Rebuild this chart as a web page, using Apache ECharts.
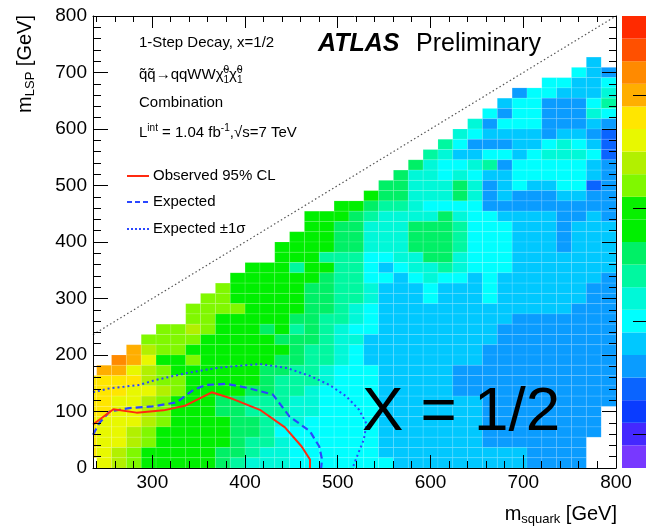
<!DOCTYPE html>
<html lang="en">
<head>
<meta charset="UTF-8">
<title>1-Step Decay x=1/2</title>
<style>
    html, body { margin: 0; padding: 0; background: #fff; }
    #chart { width: 646px; height: 527px; }
</style>
</head>
<body>
<div id="chart"></div>
<script src="https://cdn.jsdelivr.net/npm/echarts@6/dist/echarts.min.js"></script>
<script>
// histogram bins (GeV)
var squarkEdges = [224, 240, 256, 272, 288, 304, 320, 336, 352, 368, 384, 400, 416, 432, 448, 464, 480, 496,
    512, 528, 544, 560, 576, 592, 608, 624, 640, 656, 672, 688, 704, 720, 736, 752, 768, 784, 800];
var lspEdges = [0, 18.18, 36.36, 54.55, 72.73, 90.91, 109.09, 127.27, 145.45, 163.64, 181.82, 200,
    218.18, 236.36, 254.55, 272.73, 290.91, 309.09, 327.27, 345.45, 363.64, 381.82, 400, 418.18, 436.36,
    454.55, 472.73, 490.91, 509.09, 527.27, 545.45, 563.64, 581.82, 600, 618.18, 636.36, 654.55, 672.73,
    690.91, 709.09, 727.27];

// colour level per cell, one row per m_LSP bin, top row first: [first column, codes]
// codes: '.' empty, 0-9 then a-j = level 0..19 of the palette
var cellRows = [
    [34, '5'],
    [33, '654'],
    [31, '66556'],
    [29, '4665557'],
    [28, '56644468'],
    [27, '646644476'],
    [26, '7466644454'],
    [25, '76555545543'],
    [24, '864445567653'],
    [23, '8755665677763'],
    [22, '97667846666654'],
    [21, '977676556666654'],
    [20, '9977797456556634'],
    [19, 'a9977797454445544'],
    [17, 'aa98876666444444444'],
    [15, 'aaa987777976655554454'],
    [15, 'aa9977799986665554555'],
    [14, 'aaa9977799986665554555'],
    [13, 'aaaa9977799986665554555'],
    [13, 'aaa88866779976665555555'],
    [11, 'aaa8aa8865677876665555555'],
    [10, 'aaaaaa98866567665655555554'],
    [9, 'caaaaa998875556555655555544'],
    [8, 'ccaaaaa998875556555655555544'],
    [7, 'ccccaaaa998765555555555555444'],
    [7, 'ccaaaaa9988765555555554444444'],
    [5, 'ccdcaaa9a8987665555555544444444'],
    [4, 'ccccaaaaa99987755555555544444444'],
    [3, 'gdccaaaaaaa9887655555555444444444'],
    [2, 'hgeaacaaaaa99887655555555444444444'],
    [1, 'ggedcaaaaaa998876665555544444444444'],
    [0, 'ffffdccaaaaa988876665555544444444444'],
    [0, 'fffeedcaaaa9988766665555544444444444'],
    [0, 'ffeedcaaa998887766665555555444444444'],
    [0, 'ffeedcaaa99888776666555555544444444.'],
    [0, 'feeedcaaaa9987766666555555544444444.'],
    [0, 'feedcaaaaa9986666666555555544444444.'],
    [0, 'feedcaaaaa988766666655555554444444..'],
    [0, 'fedcaaaaa9987766666655555555554444..'],
    [0, '.edcaaaaa9877766666665555555554444..']
];

// limit contours [m_squark, m_LSP]
var observed = [[236, 77], [258, 104], [283, 98], [312, 102], [335, 110], [364, 134], [387, 122],
    [416, 103], [443, 72], [461, 38], [470, 15], [470, 0]];
var expected = [[236, 59], [243, 80], [254, 100], [275, 106], [300, 109], [326, 116], [344, 138],
    [358, 147], [380, 149], [402, 142], [430, 130], [448, 91], [470, 65], [480, 38], [483, 15], [482, 0]];
var expectedUp = [[236, 134], [254, 141], [286, 147], [304, 156], [337, 168], [369, 177], [394, 181],
    [416, 184], [445, 177], [470, 163], [491, 147], [509, 127], [523, 103], [531, 78], [528, 50],
    [523, 30], [518, 9], [516, 0]];
var diagonal = [[236, 236], [800, 800]];

var xMajorTicks = [300, 400, 500, 600, 700, 800];
var xMinorTicks = [240, 260, 280, 300, 320, 340, 360, 380, 400, 420, 440, 460, 480, 500, 520, 540, 560,
    580, 600, 620, 640, 660, 680, 700, 720, 740, 760, 780, 800];
var colorbarTicks = [1.5, 6.5, 11.5, 16.5];

var palette = ['#7838ff', '#4428ff', '#0a3cff', '#0a64ff', '#0a9cff', '#00c8ff', '#00ffff', '#00f8d8',
    '#00f8a0', '#00f066', '#00f000', '#08f000', '#80f800', '#b2f000', '#e8f800', '#ffe600',
    '#ffae00', '#ff8a00', '#ff5000', '#ff2a00'];
var codes = '0123456789abcdefghij';
var FONT = '"Liberation Sans", Arial, Helvetica, sans-serif';

var cells = [];
cellRows.forEach(function (row, i) {
    var r = cellRows.length - 1 - i;
    for (var k = 0; k < row[1].length; k++) {
        var c = row[0] + k;
        var lv = codes.indexOf(row[1].charAt(k));
        if (lv < 0 || c + 1 >= squarkEdges.length) continue;
        cells.push([squarkEdges[c], squarkEdges[c + 1], lspEdges[r], lspEdges[r + 1], lv]);
    }
});
var bands = palette.map(function (p, i) { return [0, i]; });

function renderCell(params, api) {
    var p0 = api.coord([api.value(0), api.value(3)]);
    var p1 = api.coord([api.value(1), api.value(2)]);
    var shape = echarts.graphic.clipRectByRect(
        { x: p0[0], y: p0[1], width: p1[0] - p0[0], height: p1[1] - p0[1] },
        { x: params.coordSys.x, y: params.coordSys.y, width: params.coordSys.width, height: params.coordSys.height });
    if (!shape) return;
    return {
        type: 'rect', shape: shape,
        style: { fill: palette[api.value(4)], stroke: 'rgba(255,255,255,0.18)', lineWidth: 0.6 }
    };
}

function renderBand(params, api) {
    var top = api.coord([0, api.value(1) + 1]);
    var bottom = api.coord([0, api.value(1)]);
    var cs = params.coordSys;
    return {
        type: 'rect',
        shape: { x: cs.x, y: top[1], width: cs.width, height: bottom[1] - top[1] },
        style: { fill: palette[api.value(1)] }
    };
}

function crisp(v) { return Math.round(v - 0.5) + 0.5; }

// inside tick marks of the bottom and top frame edges
function renderXTick(params, api) {
    var v = api.value(0);
    var major = xMajorTicks.indexOf(v) >= 0;
    var x = crisp(api.coord([v, 0])[0]);
    var cs = params.coordSys;
    var yb = cs.y + cs.height, yt = cs.y;
    return {
        type: 'group', children: [
            { type: 'line', shape: { x1: x, y1: yb, x2: x, y2: yb - (major ? 13 : 7) }, style: { stroke: '#000', lineWidth: 1 } },
            { type: 'line', shape: { x1: x, y1: yt, x2: x, y2: yt + (major ? 12 : 6) }, style: { stroke: '#000', lineWidth: 1 } }
        ]
    };
}

function renderBarTick(params, api) {
    var y = crisp(api.coord([0, api.value(1)])[1]);
    var cs = params.coordSys;
    var xr = cs.x + cs.width;
    return { type: 'line', shape: { x1: xr, y1: y, x2: xr - 13, y2: y }, style: { stroke: '#000', lineWidth: 1 } };
}

var black = { color: '#000', width: 1 };
function txt(x, y, text, size, extra) {
    var st = { text: text, x: 0, y: 0, fill: '#000', font: size + 'px ' + FONT,
        align: 'left', verticalAlign: 'middle' };
    for (var k in extra) st[k] = extra[k];
    return { type: 'text', x: x, y: y, z: 100, style: st };
}

var chart = echarts.init(document.getElementById('chart'));
var option = {
    animation: false,
    backgroundColor: '#fff',
    grid: [
        { left: 93, top: 16, width: 523, height: 452 },
        { left: 622, top: 16, width: 28, height: 452 }
    ],
    xAxis: [
        { gridIndex: 0, type: 'value', position: 'bottom', min: 236, max: 800, z: 10,
            axisLine: { show: true, onZero: false, lineStyle: black },
            axisTick: { show: false },
            axisLabel: { show: true, customValues: xMajorTicks, margin: 5, color: '#000', fontSize: 19, fontFamily: FONT },
            splitLine: { show: false } },
        { gridIndex: 0, type: 'value', position: 'top', min: 236, max: 800, z: 10,
            axisLine: { show: true, onZero: false, lineStyle: black },
            axisTick: { show: false }, axisLabel: { show: false }, splitLine: { show: false } },
        { gridIndex: 1, type: 'value', min: 0, max: 1, show: false }
    ],
    yAxis: [
        { gridIndex: 0, type: 'value', position: 'left', min: 0, max: 800, interval: 100, z: 10,
            axisLine: { show: true, onZero: false, lineStyle: black },
            axisTick: { show: true, inside: true, length: 15, lineStyle: black },
            minorTick: { show: true, splitNumber: 5, length: 8, lineStyle: black },
            axisLabel: { margin: 6, color: '#000', fontSize: 19, fontFamily: FONT },
            splitLine: { show: false }, minorSplitLine: { show: false } },
        { gridIndex: 0, type: 'value', position: 'right', min: 0, max: 800, interval: 100, z: 10,
            axisLine: { show: true, onZero: false, lineStyle: black },
            axisTick: { show: true, inside: true, length: 14, lineStyle: black },
            minorTick: { show: true, splitNumber: 5, length: 7, lineStyle: black },
            axisLabel: { show: false }, splitLine: { show: false }, minorSplitLine: { show: false } },
        { gridIndex: 1, type: 'value', min: 0, max: 20, show: false }
    ],
    series: [
        { type: 'custom', name: 'cells', xAxisIndex: 0, yAxisIndex: 0, z: 1, silent: true,
            renderItem: renderCell, encode: { x: [0, 1], y: [2, 3] }, data: cells },
        { type: 'line', name: 'diagonal', xAxisIndex: 0, yAxisIndex: 0, z: 4, symbol: 'none', silent: true,
            lineStyle: { color: '#555', width: 1.2, type: [1.5, 2.5] }, data: diagonal },
        { type: 'line', name: 'Expected ±1σ', xAxisIndex: 0, yAxisIndex: 0, z: 5, symbol: 'none',
            lineStyle: { color: '#2a46ff', width: 2, type: [2, 3] }, data: expectedUp },
        { type: 'line', name: 'Expected', xAxisIndex: 0, yAxisIndex: 0, z: 5, symbol: 'none',
            lineStyle: { color: '#2a46ff', width: 2.2, type: [7, 4] }, data: expected },
        { type: 'line', name: 'Observed 95% CL', xAxisIndex: 0, yAxisIndex: 0, z: 6, symbol: 'none',
            lineStyle: { color: '#ff2a10', width: 2 }, data: observed },
        { type: 'custom', name: 'x ticks', xAxisIndex: 0, yAxisIndex: 0, z: 10, silent: true,
            renderItem: renderXTick, data: xMinorTicks.map(function (v) { return [v, 0]; }) },
        { type: 'custom', name: 'colorbar', xAxisIndex: 2, yAxisIndex: 2, silent: true,
            renderItem: renderBand, data: bands },
        { type: 'custom', name: 'colorbar ticks', xAxisIndex: 2, yAxisIndex: 2, z: 10, silent: true,
            renderItem: renderBarTick, data: colorbarTicks.map(function (v) { return [0, v]; }) }
    ],
    graphic: [
        txt(139, 43, '1-Step Decay, x=1/2', 15),
        txt(139, 75, '{n|q̃q̃→qqWWχ̃}{s|0}{n|χ̃}{s|0}', 15, {
            rich: { n: { fontSize: 15, fontFamily: FONT, lineHeight: 20 },
                s: { fontSize: 10, fontFamily: FONT, lineHeight: 10, verticalAlign: 'top' } } }),
        txt(139, 75, '{n|q̃q̃→qqWWχ̃}{s|1}{n|χ̃}{s|1}', 15, {
            rich: { n: { fontSize: 15, fontFamily: FONT, lineHeight: 20, fill: 'rgba(0,0,0,0)' },
                s: { fontSize: 10, fontFamily: FONT, lineHeight: 10, verticalAlign: 'bottom' } } }),
        txt(139, 103, 'Combination', 15),
        txt(139, 133, '{n|L}{s|int}{n| = 1.04 fb}{s|-1}{n|,√s=7 TeV}', 15, {
            rich: { n: { fontSize: 15, fontFamily: FONT, lineHeight: 20 },
                s: { fontSize: 10, fontFamily: FONT, lineHeight: 10, verticalAlign: 'top' } } }),
        { type: 'line', z: 100, shape: { x1: 127, y1: 176, x2: 149, y2: 176 },
            style: { stroke: '#ff2a10', lineWidth: 2 } },
        txt(153, 176, 'Observed 95% CL', 15),
        { type: 'line', z: 100, shape: { x1: 127, y1: 202, x2: 149, y2: 202 },
            style: { stroke: '#2a46ff', lineWidth: 2.2, lineDash: [5, 3] } },
        txt(153, 202, 'Expected', 15),
        { type: 'line', z: 100, shape: { x1: 127, y1: 229, x2: 149, y2: 229 },
            style: { stroke: '#2a46ff', lineWidth: 2, lineDash: [2, 2] } },
        txt(153, 229, 'Expected ±1σ', 15),
        txt(318, 44, 'ATLAS', 25, { font: 'italic bold 25px ' + FONT }),
        txt(416, 44, 'Preliminary', 25),
        txt(362, 413, 'X = 1/2', 62),
        txt(617, 514, '{m|m}{s|squark}{m| [GeV]}', 20, { align: 'right',
            rich: { m: { fontSize: 20, fontFamily: FONT, lineHeight: 24 },
                s: { fontSize: 13, fontFamily: FONT, lineHeight: 16, verticalAlign: 'bottom' } } }),
        { type: 'text', x: 25, y: 15, rotation: Math.PI / 2, z: 100,
            style: { text: '{m|m}{s|LSP}{m| [GeV]}', x: 0, y: 0, fill: '#000', align: 'right', verticalAlign: 'middle',
                rich: { m: { fontSize: 20, fontFamily: FONT, lineHeight: 24 },
                    s: { fontSize: 13, fontFamily: FONT, lineHeight: 16, verticalAlign: 'bottom' } } } }
    ]
};
chart.setOption(option);
</script>
</body>
</html>
